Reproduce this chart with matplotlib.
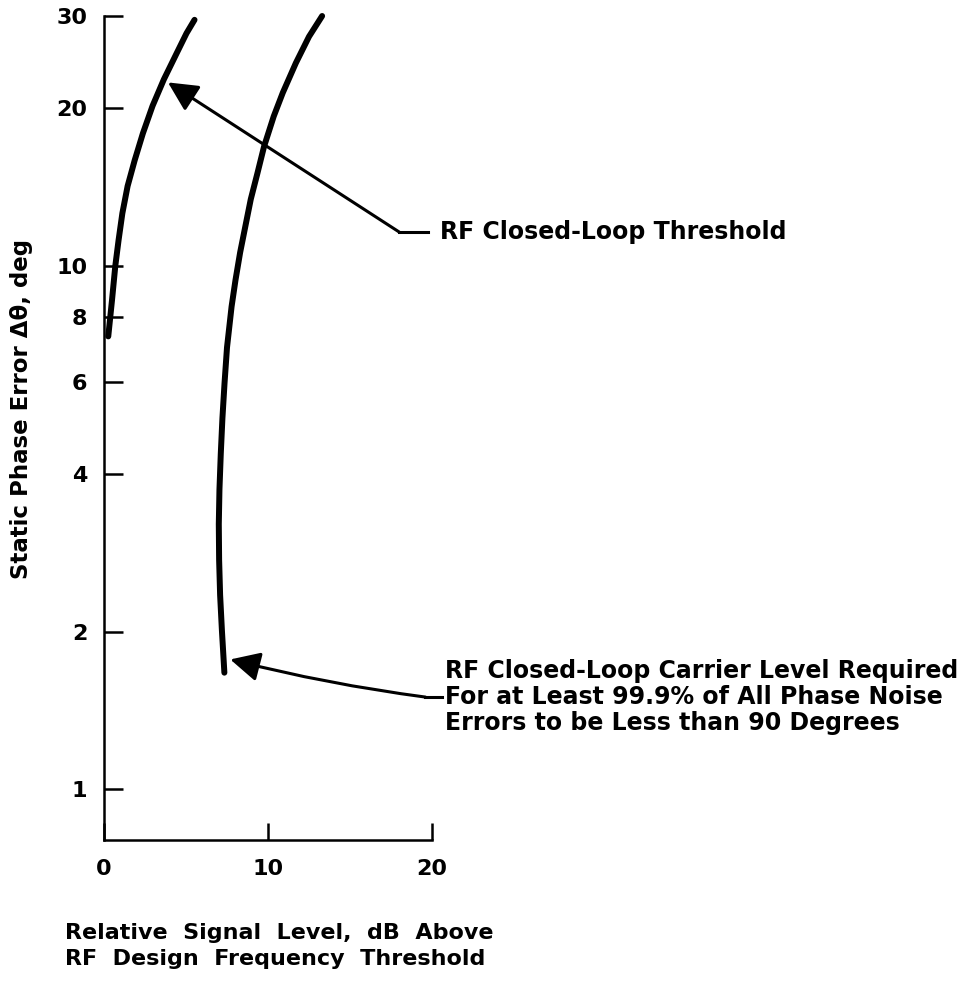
import numpy as np
import matplotlib.pyplot as plt
from matplotlib.ticker import FixedLocator, NullLocator

# curve data (x in dB, y in deg)
thresh_x = [0.26, 0.49, 0.69, 0.89, 1.12, 1.44, 1.87, 2.37, 2.96, 3.65, 4.44, 5.03, 5.52]
thresh_y = [7.33, 8.61, 10.0, 11.2, 12.6, 14.2, 15.9, 17.9, 20.2, 22.7, 25.5, 27.8, 29.5]

carrier_x = [7.34, 7.28, 7.19, 7.08, 7.02, 7.0, 7.04, 7.12, 7.22, 7.35, 7.50, 7.78,
             8.02, 8.3, 8.62, 8.95, 9.35, 9.76, 10.35, 10.9, 11.7, 12.5, 13.3]
carrier_y = [1.67, 1.80, 2.01, 2.35, 2.74, 3.21, 3.74, 4.37, 5.11, 5.97, 6.98, 8.36,
             9.4, 10.6, 11.9, 13.4, 15.0, 16.9, 19.3, 21.4, 24.4, 27.4, 30.0]

y_ticks = [1, 2, 4, 6, 8, 10, 20, 30]
x_ticks = [0, 10, 20]

plt.rcParams['font.family'] = ['DejaVu Sans']
plt.rcParams['font.weight'] = 'bold'

fig = plt.figure(figsize=(9.78, 9.82), dpi=100)
ax = fig.add_axes([104 / 978, 1 - 840 / 982, 328 / 978, 824 / 982])

ax.plot(thresh_x, thresh_y, color='black', lw=4.3, solid_capstyle='round', clip_on=False)
ax.plot(carrier_x, carrier_y, color='black', lw=4.3, solid_capstyle='round', clip_on=False)

ax.set_yscale('log')
ax.set_ylim(0.8, 30)
ax.set_xlim(0, 20)
ax.yaxis.set_major_locator(FixedLocator(y_ticks))
ax.yaxis.set_minor_locator(NullLocator())
ax.set_yticklabels([str(t) for t in y_ticks])
ax.set_xticks(x_ticks)
ax.set_xticklabels([str(t) for t in x_ticks])

for s in ['top', 'right']:
    ax.spines[s].set_visible(False)
for s in ['left', 'bottom']:
    ax.spines[s].set_linewidth(1.8)

ax.tick_params(axis='y', direction='in', length=13.5, width=1.8, pad=12, labelsize=16)
ax.tick_params(axis='x', direction='in', length=12, width=1.8, pad=14, labelsize=16)

head = '-|>,head_length=0.5,head_width=0.25'

# leader for threshold curve
ax.plot([18.0, 19.75], [11.6, 11.6], color='black', lw=2.2, clip_on=False)
ax.annotate('', xy=(3.9, 22.4), xytext=(18.0, 11.6),
            arrowprops=dict(arrowstyle=head, mutation_scale=36, lw=2.2, color='black',
                            shrinkA=0, shrinkB=0),
            annotation_clip=False)
ax.text(20.5, 11.6, 'RF Closed-Loop Threshold', fontsize=17, fontweight='bold',
        ha='left', va='center', clip_on=False)

# leader for carrier level curve
ax.plot([19.6, 20.6], [1.5, 1.5], color='black', lw=2.2, clip_on=False)
ax.annotate('', xy=(7.7, 1.77), xytext=(19.6, 1.5),
            arrowprops=dict(arrowstyle=head, mutation_scale=36, lw=2.2, color='black',
                            shrinkA=0, shrinkB=0,
                            connectionstyle='arc3,rad=-0.03'),
            annotation_clip=False)
ax.text(20.8, 1.5, 'RF Closed-Loop Carrier Level Required\n'
        'For at Least 99.9% of All Phase Noise\n'
        'Errors to be Less than 90 Degrees',
        fontsize=17, fontweight='bold', ha='left', va='center',
        linespacing=1.1, clip_on=False)

fig.text(22 / 978, 1 - 409 / 982, 'Static Phase Error Δθ, deg', rotation=90,
         fontsize=16.5, fontweight='bold', ha='center', va='center')
fig.text(65 / 978, 1 - 946 / 982, 'Relative  Signal  Level,  dB  Above\nRF  Design  Frequency  Threshold',
         fontsize=16, fontweight='bold', ha='left', va='center', linespacing=1.35)

plt.savefig('out.png', dpi=100)
